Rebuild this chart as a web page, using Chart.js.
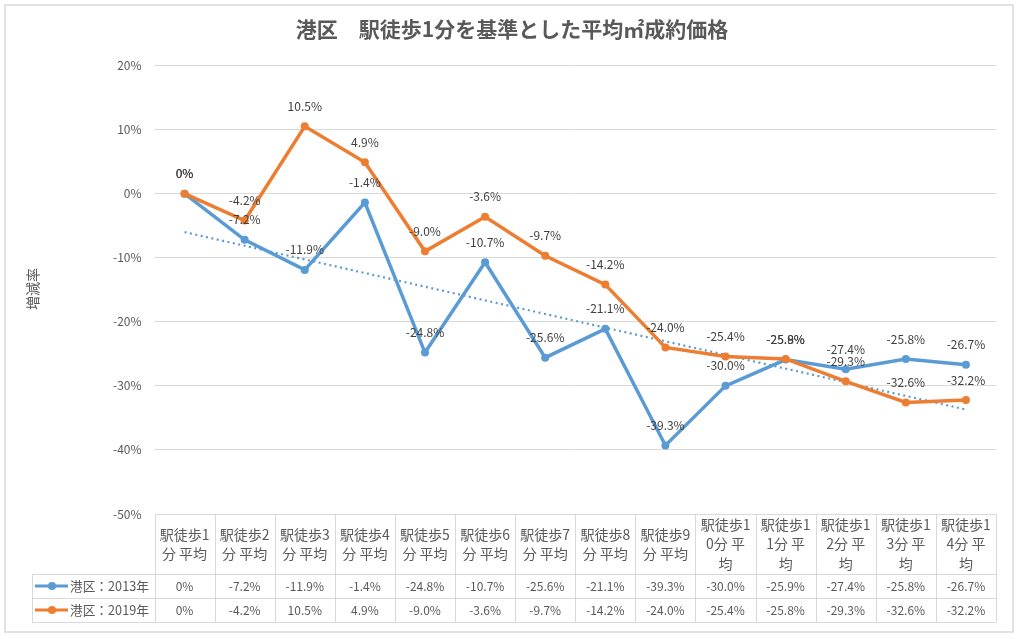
<!DOCTYPE html>
<html><head><meta charset="utf-8">
<script src="https://cdn.jsdelivr.net/npm/chart.js@4/dist/chart.umd.min.js"></script>
<style>html,body{margin:0;padding:0;background:#fff;}#wrap{width:1024px;height:639px;}</style>
</head><body><div id="wrap"><canvas id="c" width="1024" height="639"></canvas></div>
<script>
const chartTitle = '港区　駅徒歩1分を基準とした平均㎡成約価格';
const yAxisTitle = '増減率';
const categories = [
  ['駅徒歩1','分 平均'], ['駅徒歩2','分 平均'], ['駅徒歩3','分 平均'], ['駅徒歩4','分 平均'],
  ['駅徒歩5','分 平均'], ['駅徒歩6','分 平均'], ['駅徒歩7','分 平均'], ['駅徒歩8','分 平均'],
  ['駅徒歩9','分 平均'], ['駅徒歩1','0分 平','均'], ['駅徒歩1','1分 平','均'], ['駅徒歩1','2分 平','均'],
  ['駅徒歩1','3分 平','均'], ['駅徒歩1','4分 平','均']
];
const seriesNames = ['港区：2013年', '港区：2019年'];
const values2013 = [0, -7.2, -11.9, -1.4, -24.8, -10.7, -25.6, -21.1, -39.3, -30.0, -25.9, -27.4, -25.8, -26.7];
const values2019 = [0, -4.2, 10.5, 4.9, -9.0, -3.6, -9.7, -14.2, -24.0, -25.4, -25.8, -29.3, -32.6, -32.2];
const trendStart = -6.0;   // linear trendline of 2013 series, first category
const trendEnd = -33.7;    // last category
const yMin = -50, yMax = 20, yStep = 10;

const FONT = '"Noto Sans CJK JP","Noto Sans",sans-serif';
const BLUE = '#5B9BD5', ORANGE = '#ED7D31', GRID = '#d9d9d9', TXT = '#595959', LBL = '#404040';
const fmt = v => v === 0 ? '0%' : v.toFixed(1) + '%';
const n = categories.length;
const trendData = categories.map((_, i) => i === 0 ? trendStart : (i === n - 1 ? trendEnd : null));
const seriesValues = [values2013, values2019];
const seriesColors = [BLUE, ORANGE];

const excelPlugin = {
  id: 'excel',
  beforeDraw(chart) {
    const ctx = chart.ctx;
    ctx.save();
    ctx.fillStyle = '#fff';
    ctx.fillRect(0, 0, chart.width, chart.height);
    ctx.strokeStyle = GRID; ctx.lineWidth = 1.5;
    ctx.strokeRect(5, 5, 1008, 627);
    ctx.restore();
  },
  afterDatasetsDraw(chart) {
    const ctx = chart.ctx;
    ctx.save();
    ctx.font = '12px ' + FONT;
    ctx.fillStyle = LBL;
    ctx.textAlign = 'center';
    ctx.textBaseline = 'middle';
    [0, 1].forEach(s => {
      const meta = chart.getDatasetMeta(s === 0 ? 1 : 0);
      seriesValues[s].forEach((v, i) => {
        const p = meta.data[i];
        ctx.fillText(fmt(v), p.x, p.y - 20);
      });
    });
    ctx.restore();
  },
  afterDraw(chart) {
    const ctx = chart.ctx;
    const ca = chart.chartArea;
    const xs = chart.scales.x;
    ctx.save();
    // title
    ctx.fillStyle = TXT;
    ctx.font = 'bold 21px ' + FONT;
    ctx.textAlign = 'center'; ctx.textBaseline = 'middle';
    ctx.fillText(chartTitle, 512, 29);
    // y axis title
    ctx.save();
    ctx.translate(33, 289);
    ctx.rotate(-Math.PI / 2);
    ctx.font = '14px ' + FONT;
    ctx.fillText(yAxisTitle, 0, 0);
    ctx.restore();
    // data table
    const w = (ca.right - ca.left) / n;
    const top = ca.bottom;
    const r1 = top + 60, r2 = r1 + 24, r3 = r2 + 24;
    const legL = 32;
    ctx.strokeStyle = GRID; ctx.lineWidth = 1;
    ctx.beginPath();
    for (let i = 0; i <= n; i++) {
      const x = Math.round(ca.left + i * w) + 0.5;
      ctx.moveTo(x, top); ctx.lineTo(x, r3);
    }
    ctx.moveTo(legL + 0.5, r1); ctx.lineTo(legL + 0.5, r3);
    [r1, r2, r3].forEach(y => { ctx.moveTo(legL, Math.round(y) + 0.5); ctx.lineTo(ca.right, Math.round(y) + 0.5); });
    ctx.stroke();
    // header labels
    ctx.fillStyle = TXT;
    ctx.font = '14px ' + FONT;
    const hc = (top + r1) / 2;
    categories.forEach((lines, i) => {
      const cx = xs.getPixelForValue(i);
      const lh = 19.5;
      const y0 = hc - (lines.length - 1) * lh / 2;
      lines.forEach((t, k) => ctx.fillText(t, cx, y0 + k * lh));
    });
    // values
    [r1, r2].forEach((ry, s) => {
      const cy = ry + 12;
      ctx.font = '12px ' + FONT;
      seriesValues[s].forEach((v, i) => ctx.fillText(fmt(v), xs.getPixelForValue(i), cy));
      // legend key
      ctx.strokeStyle = seriesColors[s]; ctx.lineWidth = 3;
      ctx.beginPath(); ctx.moveTo(35, cy); ctx.lineTo(68, cy); ctx.stroke();
      ctx.fillStyle = seriesColors[s];
      ctx.beginPath(); ctx.arc(52, cy, 4, 0, Math.PI * 2); ctx.fill();
      ctx.fillStyle = TXT;
      ctx.textAlign = 'left';
      ctx.font = '12.7px ' + FONT;
      ctx.fillText(seriesNames[s], 70, cy);
      ctx.textAlign = 'center';
    });
    ctx.restore();
  }
};

new Chart(document.getElementById('c'), {
  type: 'line',
  data: {
    labels: categories,
    datasets: [
      { label: seriesNames[1], data: values2019, borderColor: ORANGE, backgroundColor: ORANGE,
        borderWidth: 3.5, pointRadius: 4, pointBorderWidth: 0, pointBackgroundColor: ORANGE, order: 0 },
      { label: seriesNames[0], data: values2013, borderColor: BLUE, backgroundColor: BLUE,
        borderWidth: 3.5, pointRadius: 4, pointBorderWidth: 0, pointBackgroundColor: BLUE, order: 2 },
      { label: 'trend', data: trendData, borderColor: BLUE, borderWidth: 2.2, borderDash: [2, 3.5],
        pointRadius: 0, spanGaps: true, order: 1 }
    ]
  },
  options: {
    responsive: false, animation: false, devicePixelRatio: 1,
    layout: { padding: { left: 0, right: 28, top: 65.5, bottom: 125 } },
    plugins: { legend: { display: false }, tooltip: { enabled: false }, title: { display: false } },
    scales: {
      x: { type: 'category', offset: true, display: false },
      y: {
        min: yMin, max: yMax,
        ticks: { stepSize: yStep, callback: v => v + '%', color: TXT, font: { family: FONT, size: 12 }, padding: 13 },
        grid: { color: GRID, drawTicks: false },
        border: { display: false },
        afterFit(s) { s.width = 154.5; }
      }
    }
  },
  plugins: [excelPlugin]
});
</script>
</body></html>
